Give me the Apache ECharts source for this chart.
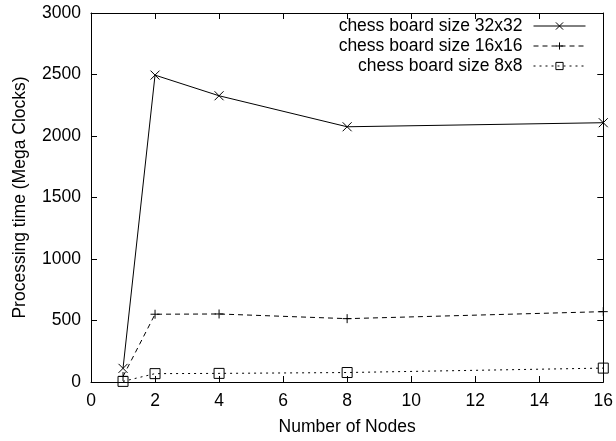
<!DOCTYPE html>
<html>
<head>
<meta charset="utf-8">
<script src="https://cdn.jsdelivr.net/npm/echarts@6/dist/echarts.min.js"></script>
<style>
  html, body { margin: 0; padding: 0; background: #fff; }
  #chart { width: 616px; height: 441px; }
</style>
</head>
<body>
<div id="chart"></div>
<script>
// Number of nodes on the x axis
const nodes = [1, 2, 4, 8, 16];

// Processing time in mega clocks for each chess board size
const board32 = [111, 2495, 2327, 2075, 2108];
const board16 = [45, 551, 553, 515, 572];
const board8 = [5, 68, 70, 77, 113];

const seriesNames = ['chess board size 32x32', 'chess board size 16x16', 'chess board size 8x8'];

const xTicks = { min: 0, max: 16, interval: 2 };
const yTicks = { min: 0, max: 3000, interval: 500 };

const FONT = 'Liberation Sans, Arial, sans-serif';
const FS = 17.5;

const crossPath = 'path://M0,0L10,10M10,0L0,10';
const plusPath = 'path://M5,0L5,10M0,5L10,5';

function pairs(ys) {
  return nodes.map((x, i) => [x, ys[i]]);
}

function makeSeries(name, ys, symbol, size, dash) {
  return {
    name: name,
    type: 'line',
    data: pairs(ys),
    symbol: symbol,
    symbolSize: size,
    showAllSymbol: true,
    lineStyle: { color: '#000', width: 1, type: dash },
    itemStyle: { color: 'rgba(0,0,0,0)', borderColor: '#000', borderWidth: 1 },
    emphasis: { disabled: true },
    animation: false,
    z: 3
  };
}

function frameAxis(extra) {
  return Object.assign({
    type: 'value',
    axisLine: { show: true, onZero: false, lineStyle: { color: '#000', width: 1 } },
    axisTick: { show: true, inside: true, length: 6, lineStyle: { color: '#000', width: 1 } },
    splitLine: { show: false }
  }, extra);
}

const chart = echarts.init(document.getElementById('chart'), null, { renderer: 'canvas' });
chart.setOption({
  backgroundColor: '#fff',
  animation: false,
  textStyle: { fontFamily: FONT },
  grid: { left: 91, right: 4, top: 13, bottom: 58 },
  legend: {
    data: seriesNames,
    orient: 'vertical',
    right: 25,
    top: 12,
    align: 'right',
    itemWidth: 52,
    itemHeight: 9,
    itemGap: 2,
    lineStyle: { width: 1 },
    itemStyle: { color: 'rgba(0,0,0,0)', borderColor: '#000', borderWidth: 1 },
    textStyle: { fontFamily: FONT, fontSize: FS, color: '#000', padding: [0, 6, 0, 0] },
    selectedMode: false
  },
  xAxis: [
    frameAxis({
      position: 'bottom',
      min: xTicks.min, max: xTicks.max, interval: xTicks.interval,
      name: 'Number of Nodes', nameLocation: 'middle', nameGap: 36,
      nameTextStyle: { fontFamily: FONT, fontSize: FS, color: '#000' },
      axisLabel: { color: '#000', fontSize: FS, fontFamily: FONT, margin: 10 }
    }),
    frameAxis({
      position: 'top',
      min: xTicks.min, max: xTicks.max, interval: xTicks.interval,
      axisLabel: { show: false }
    })
  ],
  yAxis: [
    frameAxis({
      position: 'left',
      min: yTicks.min, max: yTicks.max, interval: yTicks.interval,
      name: 'Processing time (Mega Clocks)', nameLocation: 'middle', nameGap: 62,
      nameTextStyle: { fontFamily: FONT, fontSize: FS, color: '#000' },
      axisLabel: { color: '#000', fontSize: FS, fontFamily: FONT, margin: 10, formatter: v => String(v) }
    }),
    frameAxis({
      position: 'right',
      min: yTicks.min, max: yTicks.max, interval: yTicks.interval,
      axisLabel: { show: false }
    })
  ],
  series: [
    makeSeries(seriesNames[0], board32, crossPath, 9, 'solid'),
    makeSeries(seriesNames[1], board16, plusPath, 9, [5, 4]),
    makeSeries(seriesNames[2], board8, 'rect', 10, [2, 4])
  ]
});
</script>
</body>
</html>
